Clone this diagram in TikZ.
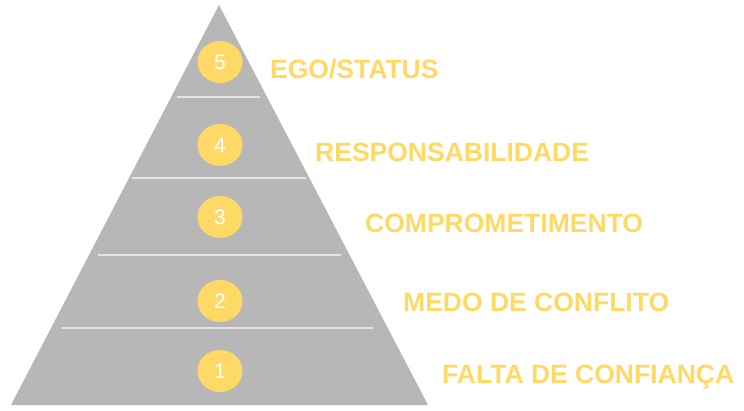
\documentclass[tikz,border=0pt]{standalone}
\usepackage{fontspec}
\setmainfont{Liberation Sans}
\usetikzlibrary{shapes.geometric}
\definecolor{pgray}{HTML}{B7B7B7}
\definecolor{pyel}{HTML}{FFD966}
\definecolor{pline}{HTML}{E4E4E4}
\tikzset{
  numcirc/.style={ellipse, fill=pyel, minimum width=45pt, minimum height=42pt, inner sep=0pt,
    text=white, font=\fontsize{21}{21}\selectfont},
  lvl/.style={anchor=west, text=pyel, inner sep=0pt, font=\bfseries\fontsize{26.5}{26.5}\selectfont},
  sep/.style={draw=pline, line width=1.4pt}
}
\begin{document}
\begin{tikzpicture}[x=1pt,y=-1pt]
\useasboundingbox (0,0) rectangle (744,410);
\coordinate (apex) at (219,5);
\coordinate (bl) at (11,405);
\coordinate (br) at (428,405);
\fill[pgray] (apex) -- (br) -- (bl) -- cycle;
\coordinate (s4l) at (177,97); \coordinate (s4r) at (260,97);
\coordinate (s3l) at (132,178); \coordinate (s3r) at (306,178);
\coordinate (s2l) at (98,255); \coordinate (s2r) at (341,255);
\coordinate (s1l) at (62,328); \coordinate (s1r) at (373,328);
\draw[sep] (s4l) -- (s4r);
\draw[sep] (s3l) -- (s3r);
\draw[sep] (s2l) -- (s2r);
\draw[sep] (s1l) -- (s1r);
\node[numcirc] (c5) at (220,62) {5};
\node[numcirc] (c4) at (220,145) {4};
\node[numcirc] (c3) at (220,217) {3};
\node[numcirc] (c2) at (220,301) {2};
\node[numcirc] (c1) at (220,371) {1};
\node[lvl] (l5) at (270,69) {EGO/STATUS};
\node[lvl] (l4) at (315,152) {RESPONSABILIDADE};
\node[lvl] (l3) at (365,223) {COMPROMETIMENTO};
\node[lvl] (l2) at (403,302) {MEDO DE CONFLITO};
\node[lvl] (l1) at (442,377) {FALTA DE CONFIANÇA};
\end{tikzpicture}
\end{document}
